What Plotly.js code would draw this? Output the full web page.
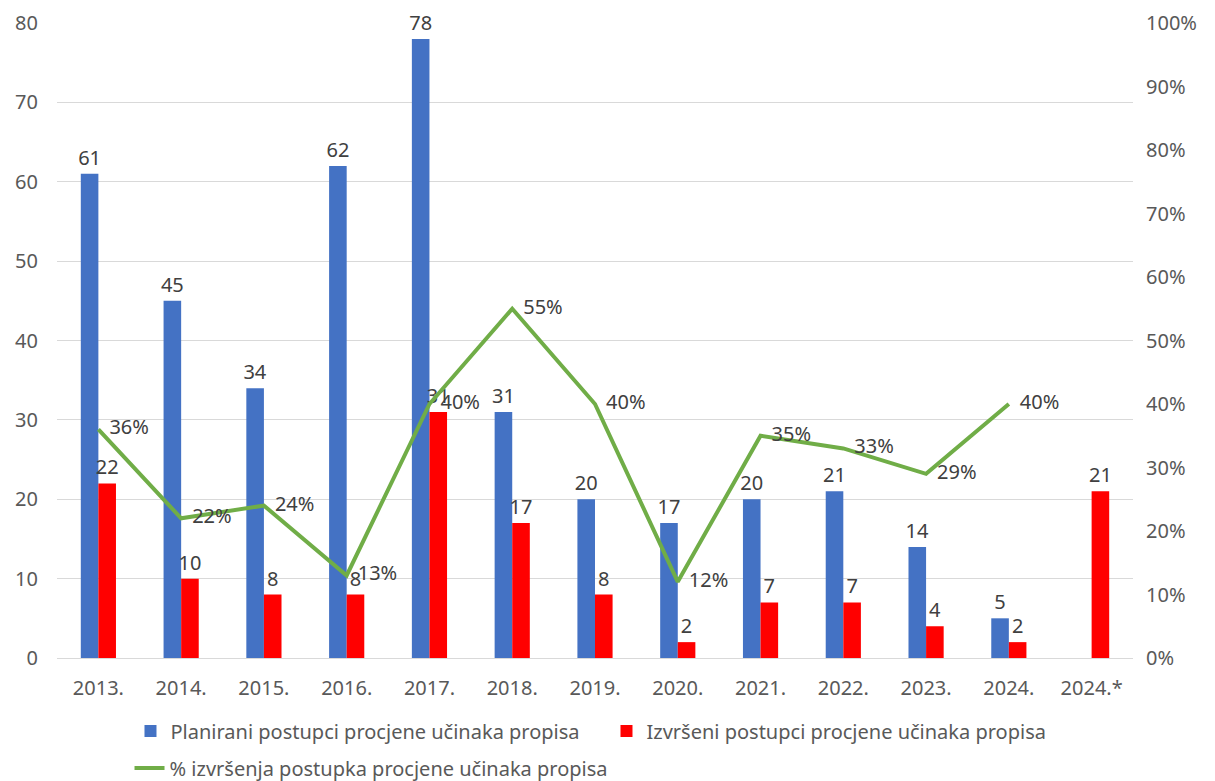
<!DOCTYPE html>
<html><head><meta charset="utf-8">
<script src="https://cdn.plot.ly/plotly-3.0.1.min.js"></script>
<style>html,body{margin:0;padding:0;background:#fff}#chart{width:1215px;height:781px}</style>
</head><body><div id="chart"></div>
<script>
const categories = ['2013.','2014.','2015.','2016.','2017.','2018.','2019.','2020.','2021.','2022.','2023.','2024.','2024.*'];
const planned = [61,45,34,62,78,31,20,17,20,21,14,5,null];
const executed = [22,10,8,8,31,17,8,2,7,7,4,2,21];
const percent = [36,22,24,13,40,55,40,12,35,33,29,40,null];
const names = ['Planirani postupci procjene učinaka propisa','Izvršeni postupci procjene učinaka propisa','% izvršenja postupka procjene učinaka propisa'];

const FONT = 'Noto Sans, sans-serif';
const GREY = '#595959';
const LBL = '#404040';
const traces = [
  {type:'bar', x:categories, y:planned, name:names[0], marker:{color:'#4472C4'},
   text:planned.map(v=>v==null?'':String(v)), textposition:'outside', cliponaxis:false,
   constraintext:'none', textfont:{family:FONT,size:20,color:LBL}, hoverinfo:'skip', legend:'legend'},
  {type:'bar', x:categories, y:executed, name:names[1], marker:{color:'#FF0000'},
   text:executed.map(v=>String(v)), textposition:'outside', cliponaxis:false,
   constraintext:'none', textfont:{family:FONT,size:20,color:LBL}, hoverinfo:'skip', legend:'legend'},
  {type:'scatter', mode:'lines+markers+text', x:categories, y:percent, yaxis:'y2', name:names[2],
   line:{color:'#70AD47', width:4}, marker:{size:16, color:'rgba(0,0,0,0)', line:{width:0}},
   text:percent.map(v=>v==null?'':v+'%'),
   textposition:'middle right', textfont:{family:FONT,size:20,color:LBL},
   cliponaxis:false, hoverinfo:'skip', legend:'legend2'}
];
const layout = {
  width:1215, height:781,
  margin:{l:57, r:82, t:23, b:123},
  paper_bgcolor:'#fff', plot_bgcolor:'#fff',
  font:{family:FONT, size:20, color:GREY},
  barmode:'group', bargap:0.575, bargroupgap:0,
  showlegend:true,
  legend:{orientation:'h', xref:'container', yref:'container', x:0.1074, xanchor:'left', y:(781-731)/781, yanchor:'middle',
          font:{family:FONT,size:20,color:GREY}, entrywidth:431, entrywidthmode:'pixels', traceorder:'normal'},
  legend2:{orientation:'h', xref:'container', yref:'container', x:0.1066, xanchor:'left', y:(781-768)/781, yanchor:'middle',
          font:{family:FONT,size:20,color:GREY}},
  xaxis:{type:'category', range:[-0.5,12.5], automargin:false, showgrid:false, zeroline:false, showline:false, ticks:'',
         tickfont:{family:FONT,size:20,color:GREY}, ticklabelstandoff:16},
  yaxis:{range:[0,80], dtick:10, automargin:false, showgrid:true, gridcolor:'#d9d9d9', gridwidth:1,
         zeroline:true, zerolinecolor:'#d9d9d9', zerolinewidth:1, showline:false, ticks:'',
         tickfont:{family:FONT,size:20,color:GREY}, ticklabelstandoff:18},
  yaxis2:{range:[0,100], dtick:10, automargin:false, overlaying:'y', side:'right', showgrid:false,
          zeroline:false, showline:false, ticks:'', ticksuffix:'%',
          tickfont:{family:FONT,size:20,color:GREY}, ticklabelstandoff:12}
};
Plotly.newPlot('chart', traces, layout, {displayModeBar:false, staticPlot:true});
</script></body></html>
